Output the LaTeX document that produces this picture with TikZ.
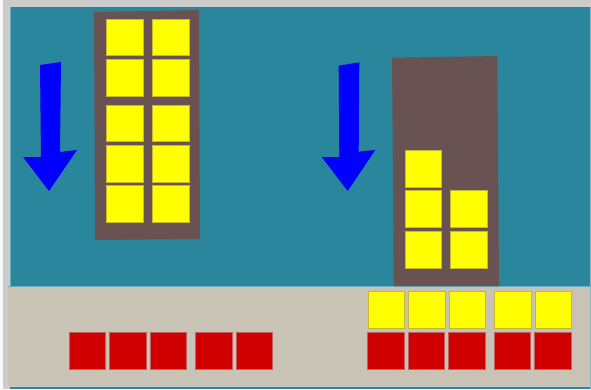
\documentclass[tikz,border=0pt]{standalone}
\definecolor{bggrey}{HTML}{CCCCCC}
\definecolor{teal1}{HTML}{29869D}
\definecolor{beige}{HTML}{C9C3B6}
\definecolor{brownw}{HTML}{685252}
\definecolor{yel}{HTML}{FFFF00}
\definecolor{yeledge}{HTML}{C8B830}
\definecolor{redb}{HTML}{D00000}
\definecolor{rededge}{HTML}{C06060}
\definecolor{bluea}{HTML}{0000FF}
\begin{document}
\begin{tikzpicture}[x=1pt,y=-1pt,
  ysq/.style={fill=yel,draw=yeledge,line width=0.5pt},
  rsq/.style={fill=redb,draw=rededge,line width=0.5pt},
  win/.style={fill=brownw},
  arrowshape/.style={fill=bluea}]
\useasboundingbox (0,0) rectangle (591,389);
\fill[bggrey] (0,0) rectangle (591,389);
\fill[white!88!bggrey] (0,0) rectangle (3,389);
% sky / wall
\fill[teal1] (10,7) rectangle (591,286);
\draw[teal1!70!white,line width=0.5pt] (10,7) -- (10,286);
% ground
\fill[beige] (7.5,286) rectangle (591,386);
\draw[teal1!70!white,line width=0.6pt] (7.5,286) -- (591,286);
\fill[teal1] (10,386.5) rectangle (591,388.5);
\fill[teal1!60!white] (590,7) rectangle (591,389);
% left window
\fill[win] (94,12) -- (199,10) -- (200,239) -- (95,240) -- cycle;
\foreach \y in {19,59.3,105,145.3,185.7}{
  \filldraw[ysq] (106.3,\y) rectangle ++(37,36.7);
  \filldraw[ysq] (152,\y) rectangle ++(37,36.7);
}
% right window
\fill[win] (392,57.7) -- (497.3,56) -- (499,284) -- (499,286) -- (393.7,286) -- cycle;
\filldraw[ysq] (405,150) rectangle ++(36.7,37);
\filldraw[ysq] (405,190.7) rectangle ++(36.7,36.7);
\filldraw[ysq] (450.7,190.7) rectangle ++(36.7,36.7);
\filldraw[ysq] (405,231.3) rectangle ++(36.7,36.7);
\filldraw[ysq] (450.7,231.3) rectangle ++(36.7,36.7);
% arrows
\fill[arrowshape] (40,65) -- (61,62) -- (60,152) -- (77,150) -- (49,191) -- (23,157) -- (41,157) -- cycle;
\fill[arrowshape] (338.7,65.7) -- (359.3,62.3) -- (358.7,151.7) -- (375.3,150) -- (347.7,191) -- (321.7,157) -- (339.3,157) -- cycle;
% bottom left red
\foreach \x in {69,109.7,150,195.7,236}{
  \filldraw[rsq] (\x,332.7) rectangle ++(36.7,36.7);
}
% bottom right yellow
\foreach \x in {368,408.7,449,494.7,535}{
  \filldraw[ysq] (\x,291.7) rectangle ++(36.7,36.7);
}
% bottom right red
\foreach \x in {367.3,408,448.7,494,534.3}{
  \filldraw[rsq] (\x,332.7) rectangle ++(36.7,36.7);
}
\end{tikzpicture}
\end{document}
